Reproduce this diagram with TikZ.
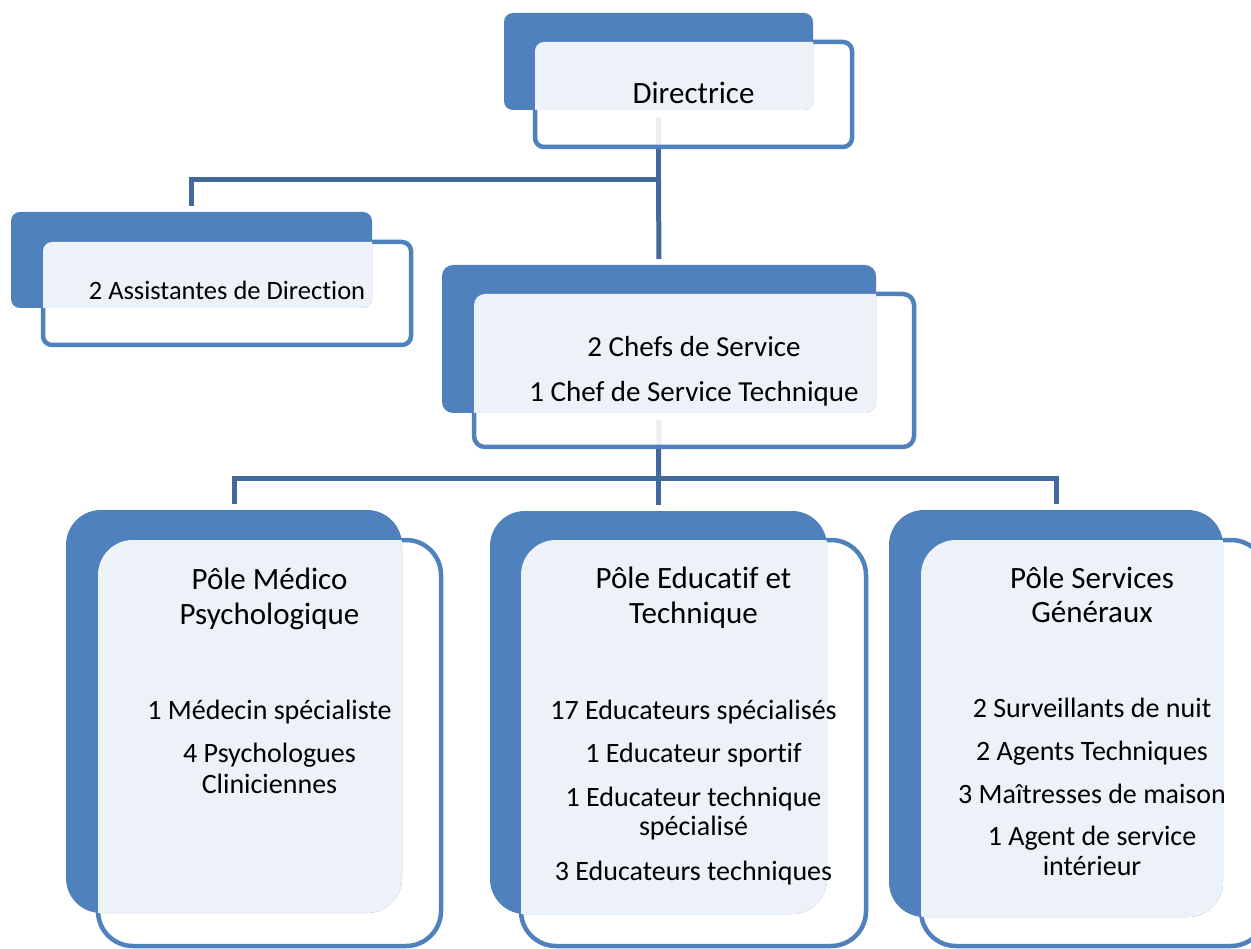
\documentclass[tikz,border=0pt]{standalone}
\usepackage{fontspec}
\setmainfont{Carlito}[Ligatures=NoCommon]
\usetikzlibrary{fit,backgrounds}
\definecolor{boxblue}{HTML}{4F81BD}
\definecolor{connblue}{RGB}{65,105,155}
\tikzset{
  frontbox/.style={draw=boxblue, line width=4.5pt, fill=white, fill opacity=.9, inner sep=0pt, outer sep=0pt},
  backbox/.style={fill=boxblue, draw=none, inner sep=0pt, outer sep=0pt},
  conn/.style={draw=connblue, line width=5pt, line join=miter},
  txt/.style={anchor=base, inner sep=0pt, text=black},
  hd/.style={txt, font=\fontsize{31}{34}\selectfont},
  li/.style={txt, font=\fontsize{28}{31}\selectfont}
}
\newcommand\orgunit[6]{%
  \node[fit={(#5)(#6)}, frontbox, rounded corners=#2] (#1f) {};
  \node[fit={(#3)(#4)}, backbox, rounded corners=#2] (#1b) {};
  \begin{scope}
    \clip[rounded corners=#2] (#1f.south west) rectangle (#1f.north east);
    \fill[white, fill opacity=.9, rounded corners=#2] (#1b.south west) rectangle (#1b.north east);
  \end{scope}}
\begin{document}
\begin{tikzpicture}[x=1pt,y=-1pt]
\useasboundingbox (0,0) rectangle (1251,949);

\orgunit{dir}{9pt}{504,13}{813,110}{535,42}{852,147}
\orgunit{as}{9pt}{11,212}{372,308}{43,242}{411,345}
\orgunit{ch}{11pt}{442,265}{876,413}{474,294}{914,447}
\orgunit{med}{35pt}{66,510}{402,913}{98,540}{441,946}
\orgunit{edu}{35pt}{490,511}{827,914}{521,540}{866,946}
\orgunit{ser}{35pt}{889,510}{1223,917}{921,540}{1266,946}

\node[txt, font=\fontsize{31}{34}\selectfont] (tdir) at (693.5,104) {Directrice};
\node[txt, font=\fontsize{26.5}{30}\selectfont] (tas) at (227,300) {2 Assistantes de Direction};
\node[txt, font=\fontsize{29}{32}\selectfont] (tch1) at (694,357) {2 Chefs de Service};
\node[txt, font=\fontsize{29}{32}\selectfont] (tch2) at (694,402) {1 Chef de Service Technique};

\node[hd] (m1) at (269.5,589) {Pôle Médico};
\node[hd] (m2) at (269.5,624) {Psychologique};
\node[li] (m3) at (269.5,719) {1 Médecin spécialiste};
\node[li] (m4) at (269.5,762) {4 Psychologues};
\node[li] (m5) at (269.5,793) {Cliniciennes};

\node[hd] (e1) at (693.5,588) {Pôle Educatif et};
\node[hd] (e2) at (693.5,623) {Technique};
\node[li] (e3) at (693.5,719) {17 Educateurs spécialisés};
\node[li] (e4) at (693.5,762) {1 Educateur sportif};
\node[li] (e5) at (693.5,806) {1 Educateur technique};
\node[li] (e6) at (693.5,835) {spécialisé};
\node[li] (e7) at (693.5,880) {3 Educateurs techniques};

\node[hd] (s1) at (1092,588) {Pôle Services};
\node[hd] (s2) at (1092,622) {Généraux};
\node[li] (s3) at (1092,717) {2 Surveillants de nuit};
\node[li] (s4) at (1092,760) {2 Agents Techniques};
\node[li] (s5) at (1092,803) {3 Maîtresses de maison};
\node[li] (s6) at (1092,845) {1 Agent de service};
\node[li] (s7) at (1092,875) {intérieur};

\coordinate (j1) at (658.5,180);
\coordinate (j2) at (658.5,479);
\begin{scope}[on background layer]
  \fill[white] (0,0) rectangle (1251,949);
  \draw[conn, shorten <=7pt] (dirb.south) -- (j1);
  \draw[conn, shorten >=6pt] (j1) -| (asb.north);
  \draw[conn, shorten >=6pt] (j1) -- (chb.north);
  \draw[conn, shorten <=7pt] (chb.south) -- (j2);
  \draw[conn, shorten >=6pt] (j2) -| (medb.north);
  \draw[conn, shorten >=6pt] (j2) -- (edub.north);
  \draw[conn, shorten >=6pt] (j2) -| (serb.north);
\end{scope}
\end{tikzpicture}
\end{document}
